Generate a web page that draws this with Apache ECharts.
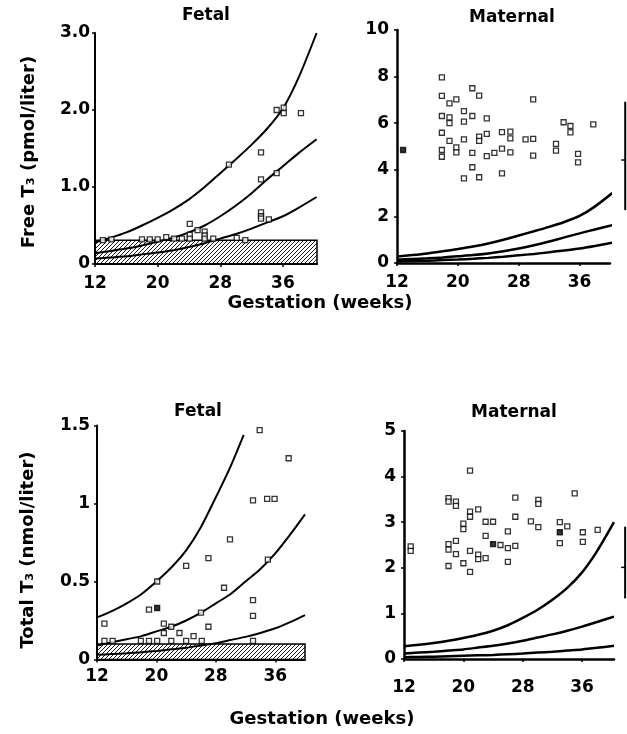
<!DOCTYPE html>
<html><head><meta charset="utf-8">
<script src="https://cdn.jsdelivr.net/npm/echarts@6/dist/echarts.min.js"></script>
<style>html,body{margin:0;padding:0;background:#fff}#c{width:627px;height:734px}</style>
</head><body><div id="c"></div>
<script>
// ---- tick labels ----
const xTicks = [12, 20, 28, 36];

// ---- reference curves ----
const freeWeeks = [12,14,16,18,20,22,24,26,28,30,32,34,36,38,40.3];
const freeUpper = [0.28,0.34,0.41,0.5,0.6,0.71,0.84,1.0,1.18,1.36,1.55,1.76,2.02,2.42,3.0];
const freeMiddle = [0.14,0.17,0.2,0.24,0.29,0.34,0.41,0.5,0.62,0.76,0.92,1.1,1.27,1.44,1.62];
const freeLower = [0.07,0.085,0.1,0.125,0.15,0.18,0.22,0.27,0.33,0.39,0.46,0.54,0.62,0.73,0.87];

const fetTotUpperWeeks = [12,14,16,18,20,22,24,26,28,30,31.75];
const fetTotUpper = [0.27,0.31,0.36,0.42,0.5,0.59,0.7,0.85,1.04,1.24,1.44];
const fetTotWeeks = [12,14,16,18,20,22,24,26,28,30,32,34,36,38,40];
const fetTotMiddle = [0.09,0.11,0.13,0.15,0.18,0.21,0.25,0.3,0.36,0.42,0.5,0.58,0.68,0.8,0.93];
const fetTotLower = [0.03,0.035,0.04,0.047,0.055,0.065,0.075,0.09,0.105,0.125,0.145,0.17,0.2,0.24,0.285];

const matTotWeeks = [12,14,16,18,20,22,24,26,28,30,32,34,36,38,40.3];
const matTotUpper = [0.28,0.31,0.35,0.4,0.46,0.53,0.62,0.74,0.9,1.08,1.3,1.56,1.9,2.36,3.0];
const matTotMiddle = [0.12,0.14,0.16,0.185,0.21,0.25,0.29,0.34,0.4,0.47,0.54,0.62,0.71,0.81,0.93];
const matTotLower = [0.04,0.045,0.05,0.06,0.07,0.08,0.09,0.105,0.12,0.14,0.16,0.185,0.21,0.245,0.29];

// ---- hatched fetal reference bands [x0, x1, y0, y1] ----
const fetFreeBand = [12, 40.35, 0, 0.31];
const fetTotBand = [12, 40, 0, 0.1];

// ---- maternal reference range bars [x, low, high, mid] ----
const matFreeRange = [42, 2.27, 6.92, 4.42];
const matTotRange = [41.8, 1.33, 2.9, 2.01];

// ---- observations ----
const fetFreePts = [[13.0,0.31],[14.1,0.32],[18.0,0.32],[19.0,0.32],[20.0,0.32],[21.1,0.35],[22.1,0.33],[23.1,0.33],[24.1,0.52],[24.1,0.38],[24.1,0.33],[25.1,0.44],[26.0,0.42],[26.0,0.37],[26.0,0.33],[27.1,0.33],[29.1,1.29],[30.1,0.34],[31.2,0.31],[33.2,1.45],[33.2,1.10],[33.2,0.67],[33.2,0.62],[33.2,0.59],[34.2,0.58],[35.2,1.18],[35.2,2.0],[36.1,2.03],[36.1,1.96],[38.3,1.96]];

const matFreePts = [[17.9,7.97],[17.9,7.17],[17.9,6.31],[17.9,5.59],[17.9,4.85],[17.9,4.56],[18.9,6.85],[18.9,6.25],[18.9,6.0],[18.9,5.24],[19.8,7.02],[19.8,4.96],[19.8,4.75],[20.8,6.52],[20.8,6.07],[20.8,5.31],[20.8,3.63],[21.9,7.5],[21.9,6.31],[21.9,4.73],[21.9,4.11],[22.8,7.18],[22.8,5.42],[22.8,5.24],[22.8,3.68],[23.8,6.21],[23.8,5.54],[23.8,4.59],[24.8,4.73],[25.8,5.62],[25.8,4.91],[25.8,3.85],[26.9,5.64],[26.9,5.35],[26.9,4.75],[28.9,5.31],[29.9,7.02],[29.9,5.33],[29.9,4.61],[32.9,5.11],[32.9,4.82],[33.9,6.04],[34.8,5.88],[34.8,5.61],[35.8,4.68],[35.8,4.32],[37.8,5.95]];
const matFreeFilled = [[12.8,4.85]];

const fetTotPts = [[13.0,0.23],[13.0,0.12],[14.1,0.12],[17.9,0.12],[19.0,0.12],[20.1,0.12],[19.0,0.32],[20.1,0.5],[21.0,0.23],[21.0,0.17],[22.0,0.21],[22.0,0.12],[23.1,0.17],[24.0,0.6],[24.0,0.12],[25.0,0.15],[26.0,0.3],[26.1,0.12],[27.0,0.65],[27.0,0.21],[29.1,0.46],[29.9,0.77],[33.0,1.02],[33.0,0.38],[33.0,0.28],[33.0,0.12],[33.9,1.47],[34.9,1.03],[35.9,1.03],[35.0,0.64],[37.8,1.29]];
const fetTotFilled = [[20.1,0.33]];

const matTotPts = [[12.9,2.47],[12.9,2.37],[18.0,3.53],[18.0,3.45],[18.0,2.52],[18.0,2.4],[18.0,2.04],[19.0,3.45],[19.0,3.36],[19.0,2.59],[19.0,2.3],[20.0,2.97],[20.0,2.85],[20.0,2.1],[20.9,4.13],[20.9,3.23],[20.9,3.12],[20.9,2.37],[20.9,1.91],[22.0,3.28],[22.0,2.29],[22.0,2.19],[23.0,3.01],[23.0,2.7],[23.0,2.21],[24.0,3.01],[25.0,2.5],[26.0,2.8],[26.0,2.43],[26.0,2.13],[27.0,3.54],[27.0,3.12],[27.0,2.48],[29.1,3.02],[30.1,3.49],[30.1,3.4],[30.1,2.89],[33.0,3.0],[33.0,2.54],[34.0,2.91],[35.0,3.63],[36.1,2.78],[36.1,2.57],[38.1,2.83]];
const matTotFilled = [[24.0,2.52],[33.0,2.78]];

// ---- helpers ----
const FONT = 'DejaVu Sans';
const zip = (xs, ys) => xs.map((x, i) => [x, ys[i]]);

function hatchCanvas() {
  const c = document.createElement('canvas');
  c.width = 4; c.height = 4;
  const g = c.getContext('2d');
  g.strokeStyle = '#000'; g.lineWidth = 0.9;
  g.beginPath();
  g.moveTo(0, 4); g.lineTo(4, 0);
  g.moveTo(-1, 1); g.lineTo(1, -1);
  g.moveTo(3, 5); g.lineTo(5, 3);
  g.stroke();
  return c;
}
const hatch = hatchCanvas();

function xAx(i, max, lw, margin, pad) {
  return {
    gridIndex: i, type: 'value', min: 12, max: max,
    axisLine: { show: true, onZero: false, lineStyle: { color: '#000', width: lw } },
    axisTick: { show: true, customValues: xTicks, length: 3, lineStyle: { color: '#000', width: 1.5 } },
    axisLabel: { customValues: xTicks, hideOverlap: false,
      color: '#000', fontFamily: FONT, fontWeight: 'bold', fontSize: 17, margin: margin, padding: [pad, 0, 0, 0] },
    splitLine: { show: false }
  };
}
function yAx(i, max, interval, lw, fmt, margin) {
  return {
    gridIndex: i, type: 'value', min: 0, max: max, interval: interval,
    axisLine: { show: true, onZero: false, lineStyle: { color: '#000', width: lw } },
    axisTick: { show: true, length: 3, lineStyle: { color: '#000', width: 1.5 } },
    axisLabel: { hideOverlap: false, color: '#000', fontFamily: FONT, fontWeight: 'bold', fontSize: 17, margin: margin, formatter: fmt },
    splitLine: { show: false }
  };
}
function curve(i, data, w) {
  return { type: 'line', xAxisIndex: i, yAxisIndex: i, data: data, smooth: 0.25,
    showSymbol: false, silent: true, z: 3, lineStyle: { color: '#000', width: w } };
}
function pts(i, data, filled) {
  return { type: 'scatter', xAxisIndex: i, yAxisIndex: i, data: data, symbol: 'rect', symbolSize: 5, z: 5,
    itemStyle: { color: filled ? '#000' : '#fff', borderColor: '#000', borderWidth: 1.3 } };
}
function band(i, b) {
  return { type: 'custom', xAxisIndex: i, yAxisIndex: i, z: 2, data: [b],
    renderItem: (p, api) => {
      const a = api.coord([api.value(0), api.value(3)]);
      const c = api.coord([api.value(1), api.value(2)]);
      return { type: 'rect', shape: { x: a[0], y: a[1], width: c[0] - a[0], height: c[1] - a[1] },
        style: { fill: { image: hatch, repeat: 'repeat' }, stroke: '#000', lineWidth: 1.5 } };
    } };
}
function rangeBar(i, r) {
  return { type: 'custom', xAxisIndex: i, yAxisIndex: i, z: 4, clip: false, data: [r],
    renderItem: (p, api) => {
      const lo = api.coord([api.value(0), api.value(1)]);
      const hi = api.coord([api.value(0), api.value(2)]);
      const m = api.coord([api.value(0), api.value(3)]);
      return { type: 'group', children: [
        { type: 'line', shape: { x1: lo[0], y1: lo[1], x2: hi[0], y2: hi[1] }, style: { stroke: '#000', lineWidth: 2 } },
        { type: 'line', shape: { x1: m[0] - 4, y1: m[1], x2: m[0], y2: m[1] }, style: { stroke: '#000', lineWidth: 1.5 } }
      ] };
    } };
}
function txt(x, y, s, size, rot) {
  return { type: 'text', x: x, y: y, rotation: rot || 0, z: 10,
    style: { text: s, fill: '#000', font: 'bold ' + size + 'px "' + FONT + '"', align: 'center', verticalAlign: 'middle' } };
}

const chart = echarts.init(document.getElementById('c'), null, { renderer: 'canvas' });
chart.setOption({
  animation: false,
  backgroundColor: '#fff',
  grid: [
    { left: 95, top: 33, width: 222, height: 231 },
    { left: 397, top: 30, width: 213, height: 233 },
    { left: 97, top: 425.5, width: 208, height: 234 },
    { left: 404, top: 431, width: 210, height: 228 }
  ],
  xAxis: [xAx(0, 40.35, 2, 11, 0), xAx(1, 40, 2.5, 11, 0), xAx(2, 40, 2, 9, 0), xAx(3, 40.3, 2.5, 11, 9)],
  yAxis: [
    yAx(0, 3, 1, 2, v => v === 0 ? '0' : v.toFixed(1), 5),
    yAx(1, 10, 2, 2.5, v => String(v), 8),
    yAx(2, 1.5, 0.5, 2, v => String(v), 7),
    yAx(3, 5, 1, 2.5, v => String(v), 8)
  ],
  series: [
    band(0, fetFreeBand),
    curve(0, zip(freeWeeks, freeUpper), 2),
    curve(0, zip(freeWeeks, freeMiddle), 2),
    curve(0, zip(freeWeeks, freeLower), 2),
    pts(0, fetFreePts, false),

    curve(1, zip(freeWeeks, freeUpper), 2.5),
    curve(1, zip(freeWeeks, freeMiddle), 2.5),
    curve(1, zip(freeWeeks, freeLower), 2.5),
    pts(1, matFreePts, false),
    pts(1, matFreeFilled, true),
    rangeBar(1, matFreeRange),

    band(2, fetTotBand),
    curve(2, zip(fetTotUpperWeeks, fetTotUpper), 2),
    curve(2, zip(fetTotWeeks, fetTotMiddle), 2),
    curve(2, zip(fetTotWeeks, fetTotLower), 2),
    pts(2, fetTotPts, false),
    pts(2, fetTotFilled, true),

    curve(3, zip(matTotWeeks, matTotUpper), 2.5),
    curve(3, zip(matTotWeeks, matTotMiddle), 2.5),
    curve(3, zip(matTotWeeks, matTotLower), 2.5),
    pts(3, matTotPts, false),
    pts(3, matTotFilled, true),
    rangeBar(3, matTotRange)
  ],
  graphic: [
    txt(206, 16, 'Fetal', 17),
    txt(512, 18, 'Maternal', 17),
    txt(198, 412, 'Fetal', 17),
    txt(514, 413, 'Maternal', 17),
    txt(29, 152, 'Free T\u2083 (pmol/liter)', 18, Math.PI / 2),
    txt(28, 550, 'Total T\u2083 (nmol/liter)', 18, Math.PI / 2),
    txt(320, 303, 'Gestation (weeks)', 18),
    txt(322, 719, 'Gestation (weeks)', 18)
  ]
});
</script></body></html>
